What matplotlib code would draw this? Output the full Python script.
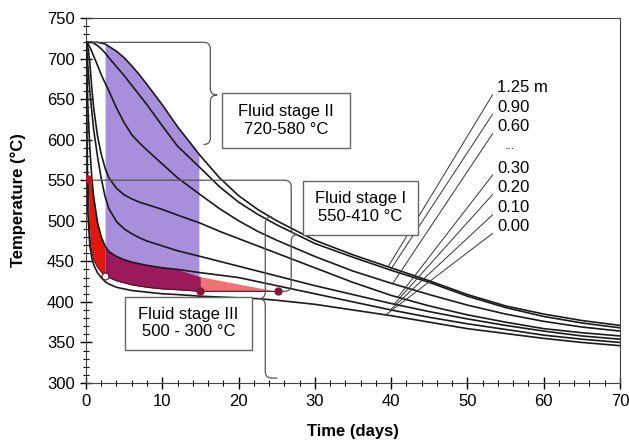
import numpy as np
import matplotlib.pyplot as plt
from matplotlib.path import Path
from matplotlib.patches import PathPatch, Rectangle

plt.rcParams['font.family'] = ['Liberation Sans', 'DejaVu Sans']

# cooling curves, temperature (C) vs time (days)
times = [0, 0.1, 0.25, 0.5, 0.75, 1, 1.5, 2, 2.5, 3, 4, 5, 6, 7, 8, 10, 12, 15, 17.5, 20,
         22.5, 25, 30, 35, 40, 45, 50, 55, 60, 65, 70]
c125 = [720, 720, 720, 720, 720, 720, 720, 719, 718, 715, 709, 701, 691, 680, 668, 643, 616, 580, 553, 531,
        514, 500, 476, 458, 442, 426, 409, 395, 385, 377, 371]
c090 = [720, 720, 720, 720, 720, 719, 716, 712, 707, 701, 690, 679, 667, 655, 643, 617, 592, 565, 542, 523,
        508, 495, 472, 455, 439, 424, 407, 393, 382, 374, 368]
c060 = [720, 720, 719, 714, 709, 703, 692, 680, 670, 660, 639, 621, 606, 596, 587, 570, 553, 532, 515, 500,
        487, 476, 456, 438, 423, 409, 396, 385, 376, 369, 364]
c030 = [720, 719, 714, 695, 665, 640, 605, 582, 565, 553, 540, 532, 527, 523, 520, 514, 507, 497, 487, 478,
        469, 460, 442, 424, 408, 395, 384, 375, 367, 362, 358]
c020 = [720, 712, 690, 660, 636, 613, 580, 552, 530, 515, 499, 490, 484, 479, 475, 469, 463, 456, 450, 444,
        438, 432, 420, 409, 398, 388, 379, 371, 364, 358, 354]
c010 = [720, 690, 640, 590, 555, 530, 498, 480, 469, 462, 456, 452, 449, 447, 445, 442, 440, 436, 433, 430,
        425, 420, 410, 400, 390, 381, 373, 366, 359, 354, 350]
c000 = [720, 640, 510, 470, 455, 446, 436, 430, 425, 422, 418, 416, 414, 413, 412, 410, 409, 407, 406, 405,
        404, 402, 397, 390, 383, 375, 367, 361, 355, 350, 346]
curves = [c125, c090, c060, c030, c020, c010, c000]

# fluid stage III field (red)
red_t = [0.3, 0.4, 0.6, 1.0, 1.5, 2.0, 2.5, 4, 6, 8, 10, 12, 15, 20, 25]
red_top = [552, 551, 550, 530, 500, 480, 467, 456, 450, 446, 443, 440, 431, 422, 413]
red_bot = [551, 500, 470, 452, 443, 437, 432, 426, 421, 418, 416, 415, 413, 413, 413]

# fluid stage II field (purple)
purple_t = [2.5, 3, 4, 5, 6, 7, 8, 10, 12, 14.8]

dist_labels = ['1.25 m', '0.90', '0.60', '0.30', '0.20', '0.10', '0.00']
label_T = [664, 640, 616, 565, 541, 516, 493]
leader_t = [39.6, 39.9, 40.2, 40.9, 40.4, 39.9, 39.3]

fig = plt.figure(figsize=(6.29, 4.42), dpi=100)
ax = fig.add_axes([0.1367, 0.1335, 0.849, 0.8258])

# purple band
p_top = np.interp(purple_t, times, c125)
p_bot = np.interp(purple_t, red_t, red_bot)
ax.fill_between(purple_t, p_bot, p_top, color='#a78fdc', lw=0, zorder=1)

# red band in three tones
rt = np.array(red_t)
ax.fill_between(rt, red_bot, red_top, where=rt <= 2.5, color='#e4170f', lw=0, zorder=2)
ax.fill_between(rt, red_bot, red_top, where=(rt >= 2.5) & (rt <= 15), color='#9a1a5c', lw=0, zorder=2)
ax.fill_between(rt, red_bot, red_top, where=rt >= 15, color='#f07272', lw=0, zorder=2)
ax.plot(red_t, red_bot, color='#5a1020', lw=0.8, zorder=3)

for c in curves:
    ax.plot(times, c, color='#1a1a1a', lw=1.2, zorder=3)

ax.plot([0.3], [551], 'o', color='#c0141c', ms=5, zorder=6)
ax.plot([2.5], [432], 'o', mfc='white', mec='#5a1020', ms=5, mew=0.8, zorder=6)
ax.plot([15, 25.2], [413, 413], 'o', color='#8b1538', ms=5, zorder=6)


def brace(x, ytop, ybot, ytip, d, start=None, end=None, rx=0.9, ry=8):
    verts, codes = [], []
    if start is not None:
        verts += [(start, ytop), (x - d * rx, ytop)]
        codes += [Path.MOVETO, Path.LINETO]
    else:
        verts += [(x - d * rx, ytop)]
        codes += [Path.MOVETO]
    verts += [(x, ytop), (x, ytop - ry), (x, ytip + ry)]
    codes += [Path.CURVE3, Path.CURVE3, Path.LINETO]
    verts += [(x, ytip), (x + d * rx, ytip), (x, ytip), (x, ytip - ry)]
    codes += [Path.CURVE3] * 4
    verts += [(x, ybot + ry), (x, ybot), (x - d * rx, ybot)]
    codes += [Path.LINETO, Path.CURVE3, Path.CURVE3]
    if end is not None:
        verts += [(end, ybot)]
        codes += [Path.LINETO]
    ax.add_patch(PathPatch(Path(verts, codes), fill=False, ec='#555555', lw=0.9, zorder=4))


brace(16.3, 720, 594, 655, 1, start=0.8)
brace(26.9, 550, 413, 483, 1, start=0.5, end=25.6)
brace(23.5, 505, 306, 404, -1, end=25.1)

# stage boxes
boxes = [(17.8, 590, 16.8, 67.7, 'Fluid stage II\n720-580 °C'),
         (28.4, 483, 15.1, 66.5, 'Fluid stage I\n550-410 °C'),
         (5.1, 341, 16.7, 65.5, 'Fluid stage III\n500 - 300 °C')]
for x0, y0, w, h, txt in boxes:
    ax.add_patch(Rectangle((x0, y0), w, h, fc='white', ec='#666666', lw=1, zorder=5))
    ax.text(x0 + w / 2, y0 + h / 2, txt, ha='center', va='center', fontsize=12,
            linespacing=1.2, zorder=6)

# distance labels with leader lines
for lab, ty, tl, c in zip(dist_labels, label_T, leader_t, curves):
    ax.text(53.9, ty, lab, ha='left', va='center', fontsize=12, zorder=6)
    ax.plot([53.3, tl], [ty - 8.6, np.interp(tl, times, c)], color='#333333', lw=0.7, zorder=4)
ax.text(54.9, 592, '...', ha='left', va='center', fontsize=9, zorder=6)

ax.set_xlim(0, 70)
ax.set_ylim(300, 750)
ax.set_xticks(range(0, 71, 10))
ax.set_xticks(range(0, 71, 2), minor=True)
ax.set_yticks(range(300, 751, 50))
ax.set_yticks(range(300, 751, 10), minor=True)
ax.tick_params(which='major', direction='inout', length=8, width=1, labelsize=12, pad=4)
ax.tick_params(which='minor', direction='inout', length=5, width=0.8)
for s in ax.spines.values():
    s.set_color('#444444')
ax.set_xlabel('Time (days)', fontsize=12, fontweight='bold', labelpad=11)
ax.set_ylabel('Temperature (°C)', fontsize=12, fontweight='bold', labelpad=15)

fig.savefig('out.png', dpi=100)
